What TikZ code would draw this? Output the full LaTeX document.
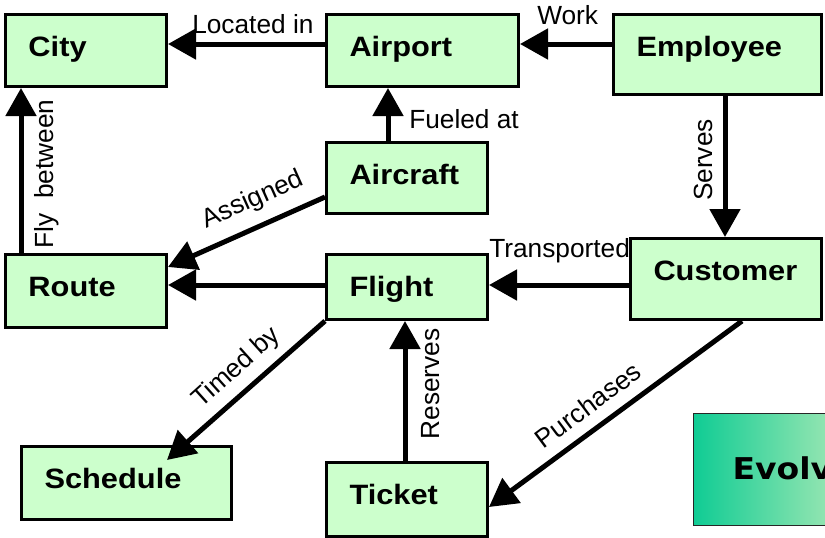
\documentclass[tikz,border=0pt]{standalone}
\usepackage{fontspec}
\setmainfont{Liberation Sans}
\newfontfamily\boxfont{Liberation Sans}[FakeStretch=1.1]
\newfontfamily\evfont{DejaVu Sans}[FakeStretch=1.1]
\usetikzlibrary{arrows.meta}
\definecolor{boxgreen}{RGB}{204,255,204}
\definecolor{evleft}{RGB}{16,204,148}
\definecolor{evright}{RGB}{196,238,188}
\tikzset{
  entity/.style n args={2}{draw=black, line width=2.25pt, fill=boxgreen,
    font=\boxfont\bfseries\fontsize{21pt}{25pt}\selectfont,
    align=left, inner xsep=17.25pt, inner ysep=0pt,
    text height=31.5pt, text depth=#2, text width=#1, anchor=north west},
  lbl/.style={font=\fontsize{19.7pt}{23pt}\selectfont, inner sep=0pt},
  conn/.style={line width=3.75pt, -{Triangle[length=21pt,width=22.5pt]}},
}
\begin{document}
\begin{tikzpicture}[x=0.75pt,y=-0.75pt]
\useasboundingbox (0,0) rectangle (825,537);
\clip (0,0) rectangle (825,537);
% labels
\node[lbl, anchor=base west] (lloc) at (192,33) {Located in};
\node[lbl, anchor=base west] (lwork) at (537,24) {Work};
\node[lbl, anchor=base west] (lfuel) at (409,128) {Fueled at};
\node[lbl, rotate=24] (lassign) at (253,200) {Assigned};
\node[lbl, rotate=90] (lfly) at (47,174) {Fly\ \ between};
\node[lbl, rotate=90] (lserve) at (703,160) {Serves};
\node[lbl, anchor=base west] (ltrans) at (489,257) {Transported};
\node[lbl, rotate=42] (ltime) at (237,368) {Timed by};
\node[lbl, rotate=90] (lres) at (431,384) {Reserves};
\node[lbl, rotate=36.7] (lpurch) at (588,405) {Purchases};
% boxes
\node[entity={86.25pt}{22.5pt}] (city) at (4,13) {City};
\node[entity={109.5pt}{22.5pt}] (airport) at (325,13) {Airport};
\node[entity={121.5pt}{28.5pt}] (employee) at (612,13) {Employee};
\node[entity={86.25pt}{21.75pt}] (aircraft) at (325,141) {Aircraft};
\node[entity={86.25pt}{23.25pt}] (route) at (4,253) {Route};
\node[entity={86.25pt}{17.25pt}] (flight) at (325,253) {Flight};
\node[entity={108.75pt}{29.25pt}] (customer) at (629,237) {Customer};
\node[entity={123pt}{23.25pt}] (schedule) at (20,445) {Schedule};
\node[entity={86.25pt}{24pt}] (ticket) at (325,461) {Ticket};
\node[draw=black!85, line width=0.9pt, left color=evleft, right color=evright,
  anchor=north west, align=left, inner xsep=29.25pt, inner ysep=0pt,
  text width=80pt, text height=49.5pt, text depth=34.5pt,
  font=\evfont\bfseries\fontsize{22.5pt}{26pt}\selectfont] (evolve) at (693,413) {Evolve};
% connectors
\draw[conn] (airport.west |- 0,44) -- (city.east |- 0,44);
\draw[conn] (employee.west |- 0,44) -- (airport.east |- 0,44);
\draw[conn] (aircraft.north -| 388,0) -- (airport.south -| 388,0);
\draw[conn] (aircraft.west |- 0,197) -- (route.east |- 0,267);
\draw[conn] (route.north -| 21,0) -- (city.south -| 21,0);
\draw[conn] (employee.south -| 725,0) -- (customer.north -| 725,0);
\draw[conn] (customer.west |- 0,285) -- (flight.east |- 0,285);
\draw[conn] (flight.west |- 0,285) -- (route.east |- 0,285);
\draw[conn] (flight.south west) -- ([shift={(147,15)}]schedule.north west);
\draw[conn] (ticket.north -| 405,0) -- (flight.south -| 405,0);
\draw[conn] (customer.south -| 742,0) -- (ticket.east |- 0,507);
\end{tikzpicture}
\end{document}
